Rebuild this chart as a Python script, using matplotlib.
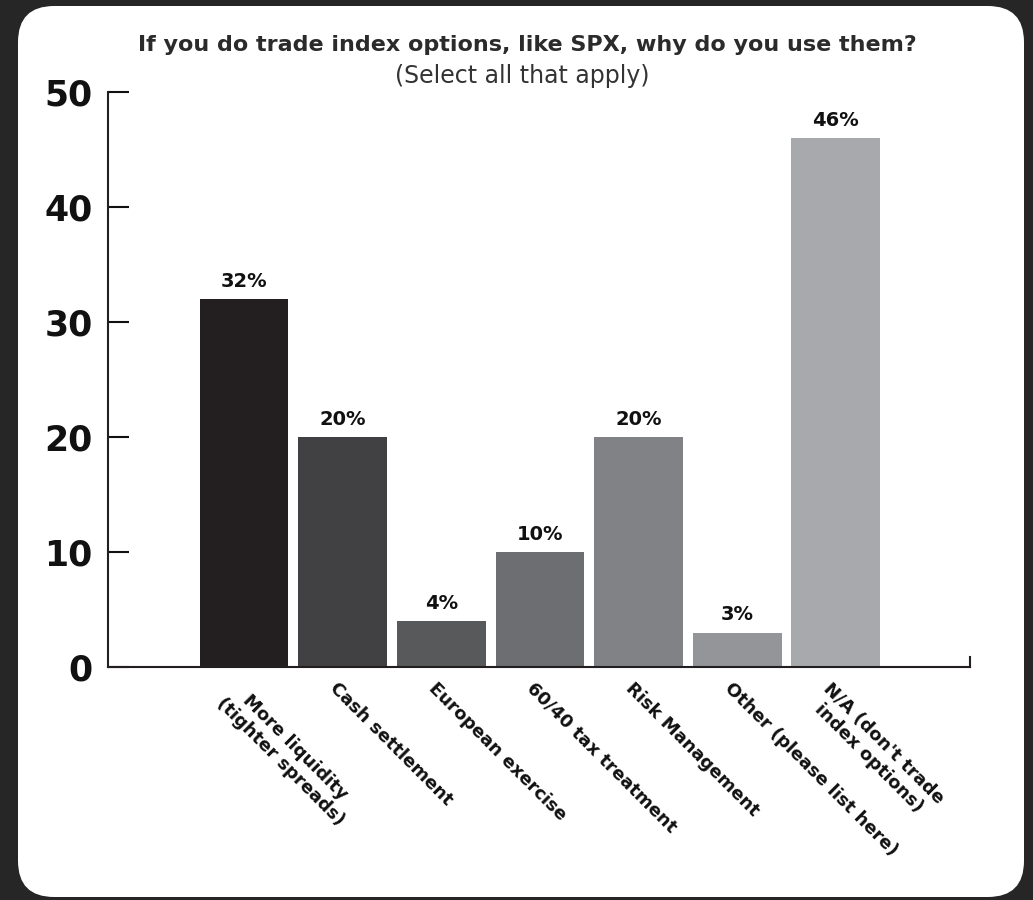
import matplotlib.pyplot as plt
import matplotlib.transforms as mtransforms
from matplotlib.patches import FancyBboxPatch
from matplotlib.lines import Line2D

categories = [
    "More liquidity\n(tighter spreads)",
    "Cash settlement",
    "European exercise",
    "60/40 tax treatment",
    "Risk Management",
    "Other (please list here)",
    "N/A (don't trade\nindex options)",
]
values = [32, 20, 4, 10, 20, 3, 46]
labels = ["32%", "20%", "4%", "10%", "20%", "3%", "46%"]
colors = ["#231f20", "#414042", "#58595b", "#6d6e71", "#808285", "#939598", "#a7a9ac"]

plt.rcParams["font.family"] = "DejaVu Sans"
W, H = 1033, 900
fig = plt.figure(figsize=(W / 100, H / 100), dpi=100, facecolor="#262626")

# white rounded card behind everything
card = FancyBboxPatch((18 / W, 1 - 897 / H), 1006 / W, 891 / H,
                      boxstyle="round,pad=0,rounding_size=0.035",
                      transform=fig.transFigure, facecolor="white",
                      edgecolor="none", mutation_aspect=W / H, zorder=-10)
fig.patches.append(card)

ax = fig.add_axes([108 / W, 1 - 667 / H, 862 / W, 575 / H])
ax.set_facecolor("none")
x = list(range(len(values)))
ax.bar(x, values, width=0.9, color=colors)
for xi, v, lab in zip(x, values, labels):
    ax.annotate(lab, (xi, v), xytext=(0, 6), textcoords="offset points",
                ha="center", va="bottom", fontsize=14, fontweight="bold",
                color="#111111")

ax.set_xlim(-1.38, 6 + 1.36)
ax.set_ylim(0, 50)
ax.set_yticks([0, 10, 20, 30, 40, 50])
ax.tick_params(axis="y", direction="in", length=15, width=1.5, pad=11,
               labelsize=25, colors="#111111")
for t in ax.get_yticklabels():
    t.set_fontweight("heavy")
ax.set_xticks(x)
ax.set_xticklabels(categories, rotation=-45, ha="left", va="top",
                   rotation_mode="anchor", fontsize=13, fontweight="bold",
                   multialignment="center")
ax.tick_params(axis="x", length=0, pad=9, colors="#111111")
shift = mtransforms.ScaledTranslation(-4 / 100, 0, fig.dpi_scale_trans)
for t in ax.get_xticklabels():
    t.set_transform(t.get_transform() + shift)

for s in ["top", "right"]:
    ax.spines[s].set_visible(False)
for s in ["left", "bottom"]:
    ax.spines[s].set_linewidth(1.5)
    ax.spines[s].set_color("#231f20")
ax.add_line(Line2D([1, 1], [0, 10 / 575], transform=ax.transAxes,
                   color="#231f20", lw=1.5, clip_on=False))

fig.text(527 / W, 1 - 45 / H,
         "If you do trade index options, like SPX, why do you use them?",
         ha="center", va="center", fontsize=16, fontweight="bold",
         color="#2b2b2b")
fig.text(522 / W, 1 - 76 / H, "(Select all that apply)", ha="center",
         va="center", fontsize=17, color="#333333")

fig.savefig("out.png", dpi=100, facecolor=fig.get_facecolor())
